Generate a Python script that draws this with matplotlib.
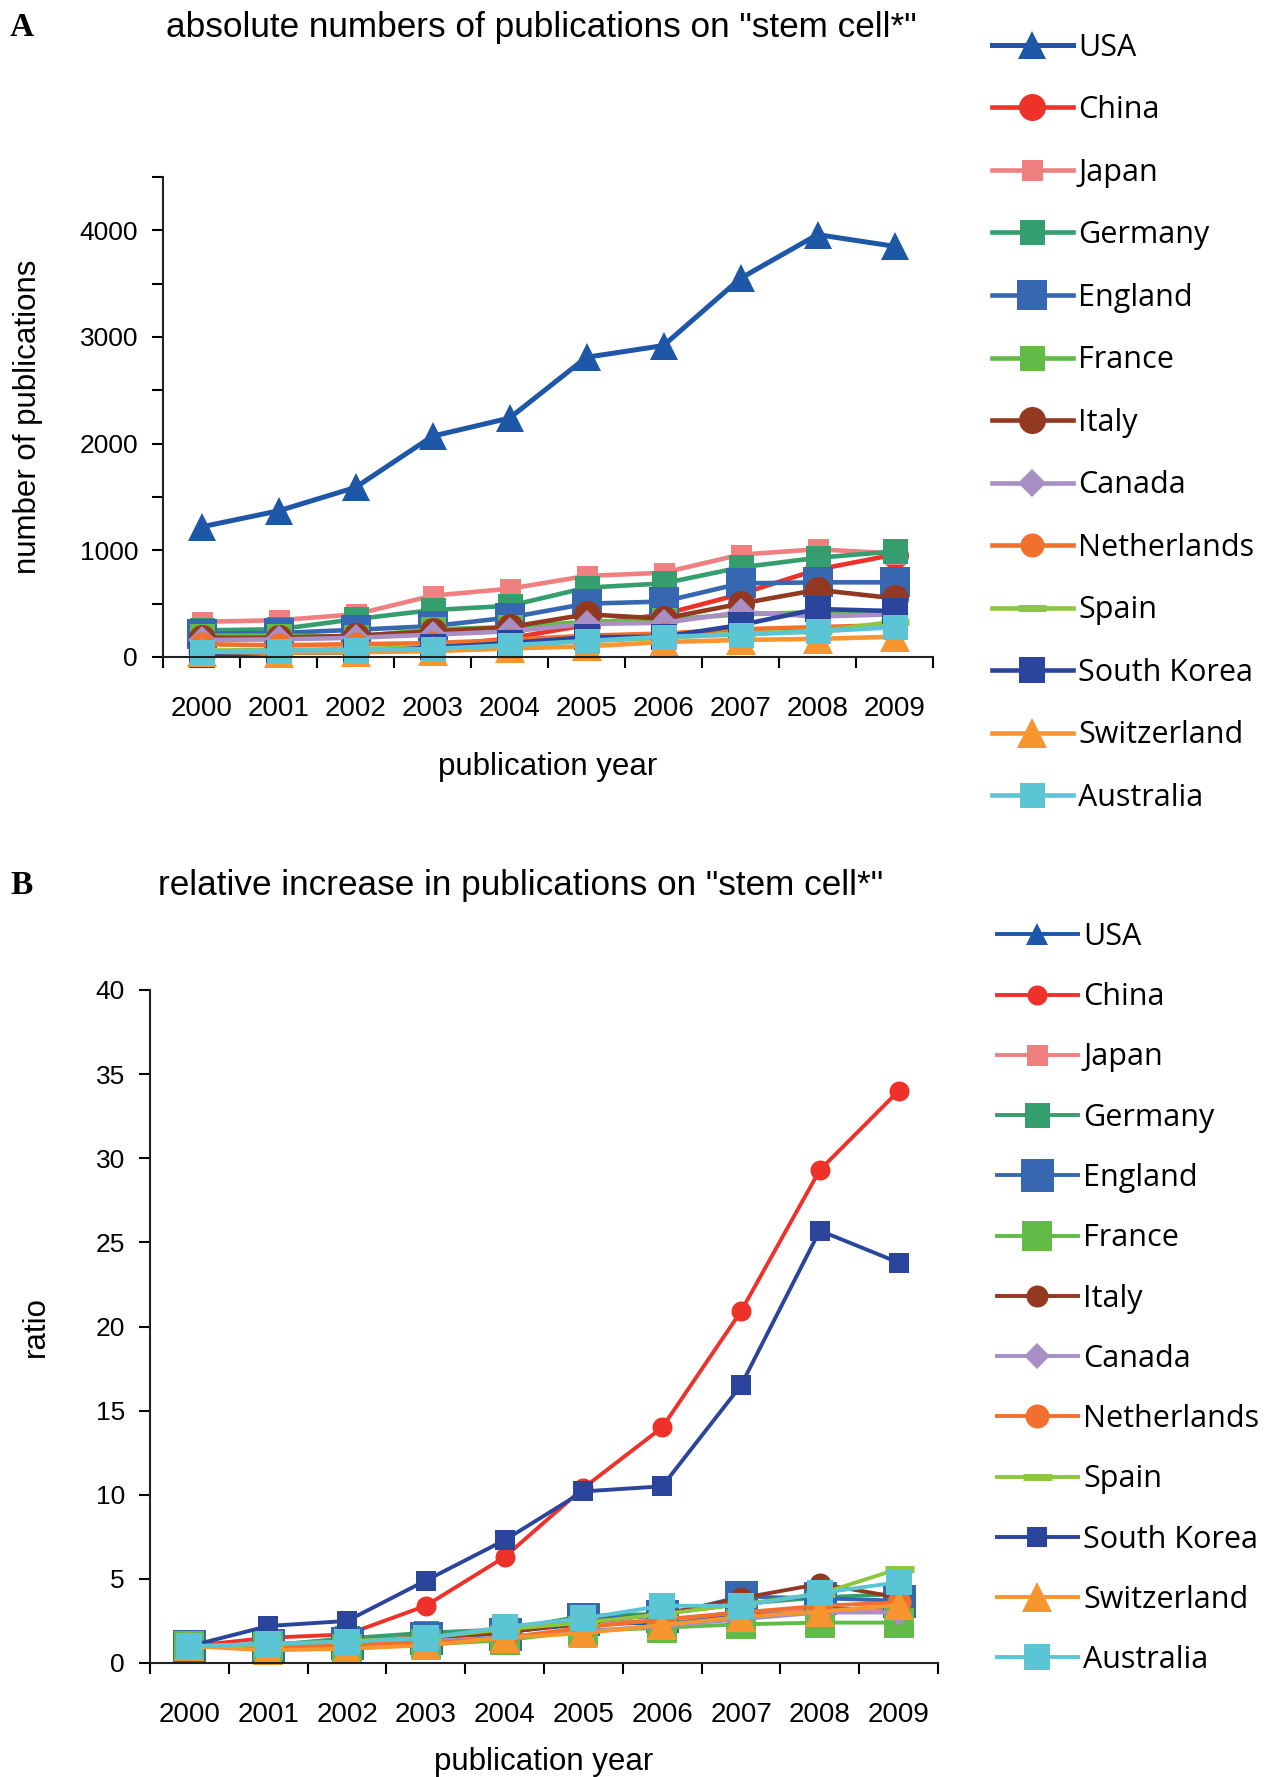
import numpy as np
import matplotlib
matplotlib.use("Agg")
import matplotlib.pyplot as plt

years = ["2000", "2001", "2002", "2003", "2004", "2005", "2006", "2007", "2008", "2009"]
countries = ["USA", "China", "Japan", "Germany", "England", "France", "Italy",
             "Canada", "Netherlands", "Spain", "South Korea", "Switzerland", "Australia"]

# panel A: absolute numbers of publications
abs_usa = [1220, 1370, 1590, 2070, 2240, 2810, 2920, 3550, 3960, 3850]
abs_china = [28, 40, 50, 95, 175, 300, 400, 590, 820, 960]
abs_japan = [330, 345, 400, 575, 640, 760, 790, 960, 1010, 970]
abs_germany = [250, 260, 355, 440, 480, 650, 690, 840, 930, 990]
abs_england = [220, 225, 255, 290, 370, 500, 520, 690, 700, 700]
abs_france = [200, 200, 190, 260, 280, 330, 350, 400, 420, 430]
abs_italy = [180, 180, 200, 240, 280, 400, 360, 500, 630, 550]
abs_canada = [160, 165, 180, 210, 240, 310, 320, 420, 380, 400]
abs_netherlands = [120, 110, 120, 130, 160, 200, 220, 260, 280, 300]
abs_spain = [60, 65, 75, 90, 120, 150, 180, 220, 240, 330]
abs_korea = [20, 40, 45, 90, 130, 185, 190, 300, 450, 430]
abs_switzerland = [50, 40, 45, 55, 80, 100, 140, 160, 170, 190]
abs_australia = [50, 60, 65, 75, 110, 150, 190, 210, 240, 280]

# panel B: ratio to 2000
rel_usa = [1, 1.12, 1.31, 1.70, 1.84, 2.31, 2.39, 2.92, 3.25, 3.16]
rel_china = [1, 1.5, 1.7, 3.4, 6.3, 10.4, 14.0, 20.9, 29.3, 34.0]
rel_japan = [1, 1.05, 1.25, 1.8, 2.0, 2.4, 2.5, 3.05, 3.2, 3.1]
rel_germany = [1, 1.06, 1.47, 1.8, 1.98, 2.8, 2.93, 3.5, 3.9, 4.1]
rel_england = [1, 1.05, 1.2, 1.5, 1.75, 2.6, 2.8, 3.95, 3.85, 3.7]
rel_france = [1, 1.0, 0.85, 1.1, 1.35, 1.9, 2.1, 2.3, 2.4, 2.4]
rel_italy = [1, 1.1, 1.3, 1.5, 1.8, 2.4, 2.9, 3.85, 4.7, 3.9]
rel_canada = [1, 1.0, 1.15, 1.3, 1.5, 1.9, 2.2, 2.6, 3.0, 3.0]
rel_netherlands = [1, 0.95, 1.1, 1.2, 1.5, 2.1, 2.6, 3.0, 3.4, 3.6]
rel_spain = [1, 1.1, 1.3, 1.5, 2.0, 2.4, 2.9, 3.5, 4.1, 5.6]
rel_korea = [1, 2.2, 2.5, 4.9, 7.3, 10.2, 10.5, 16.5, 25.7, 23.8]
rel_switzerland = [1, 0.75, 0.85, 1.05, 1.5, 1.77, 2.26, 2.75, 3.05, 3.45]
rel_australia = [1, 1.15, 1.27, 1.47, 2.15, 2.65, 3.4, 3.4, 4.15, 4.8]

abs_data = [abs_usa, abs_china, abs_japan, abs_germany, abs_england, abs_france, abs_italy,
            abs_canada, abs_netherlands, abs_spain, abs_korea, abs_switzerland, abs_australia]
rel_data = [rel_usa, rel_china, rel_japan, rel_germany, rel_england, rel_france, rel_italy,
            rel_canada, rel_netherlands, rel_spain, rel_korea, rel_switzerland, rel_australia]

colors = ["#1F57A8", "#EE3129", "#F08080", "#359E6E", "#3767B1", "#62BB47", "#933821",
          "#A88FC4", "#F26F2E", "#8DC63F", "#2B459C", "#F7962E", "#5BC5D5"]
markers = ["^", "o", "s", "s", "s", "s", "o", "D", "o", "_", "s", "^", "s"]
# marker sizes in pixels
sizes_a = [28, 27, 21, 25, 30, 25, 27, 20, 24, 28, 27, 30, 25]
sizes_b = [22, 20, 21, 25, 33, 30, 22, 19, 24, 29, 20, 30, 27]

fig = plt.figure(figsize=(12.71, 17.77), dpi=100)
W, H = 1271, 1777
PT = 0.72  # px -> pt


def ax_box(left, top, right, bottom):
    return [left / W, 1 - bottom / H, (right - left) / W, (bottom - top) / H]


def style_axis(ax, pad):
    x = np.arange(len(years))
    ax.set_xlim(-0.5, len(years) - 0.5)
    ax.set_xticks(np.arange(len(years) + 1) - 0.5)
    ax.set_xticklabels([])
    ax.set_xticks(x, minor=True)
    ax.set_xticklabels(years, minor=True, fontsize=20, family="Liberation Sans")
    ax.tick_params(axis="x", which="minor", length=0, pad=pad)
    ax.tick_params(axis="x", which="major", direction="out", length=8, width=1.5)
    ax.tick_params(axis="y", direction="out", length=8, width=1.5, labelsize=19, pad=10)
    for lab in ax.get_yticklabels():
        lab.set_family("Liberation Sans")
    for s in ["top", "right"]:
        ax.spines[s].set_visible(False)
    for s in ["left", "bottom"]:
        ax.spines[s].set_linewidth(1.5)
        ax.spines[s].set_color("#222222")


legend_font = {"family": "Open Sans", "size": 22}
x = np.arange(len(years))

# ---- Panel A
axA = fig.add_axes(ax_box(163, 177, 933, 657))
for vals, name, c, m, ms in zip(abs_data, countries, colors, markers, sizes_a):
    lw = 3.6 if name == "USA" else 3.3
    mew = 5 if m == "_" else 0
    axA.plot(x, vals, color=c, marker=m, markersize=ms * PT, linewidth=lw,
             markeredgewidth=mew, markeredgecolor=c, label=name, clip_on=False)
axA.set_ylim(0, 4500)
axA.set_yticks(np.arange(0, 4501, 500))
axA.set_yticklabels([str(v) if v % 1000 == 0 else "" for v in range(0, 4501, 500)])
style_axis(axA, 28)
axA.set_ylabel("number of publications", fontsize=22.5, family="Liberation Sans", labelpad=26)
axA.set_xlabel("publication year", fontsize=22.5, family="Liberation Sans", labelpad=22)
fig.text(166 / W, 1 - 27 / H, 'absolute numbers of publications on "stem cell*"',
         fontsize=25.3, family="Liberation Sans", va="center", ha="left")
fig.text(10 / W, 1 - 27 / H, "A", fontsize=24, family="Liberation Serif",
         weight="bold", va="center", ha="left")
axA.legend(loc="upper left", bbox_to_anchor=(992 / W, 1 - 32.5 / H), bbox_transform=fig.transFigure,
           frameon=False, prop=legend_font, handlelength=2.64,
           handletextpad=0.18, labelspacing=1.065, borderpad=0, borderaxespad=0)

# ---- Panel B
axB = fig.add_axes(ax_box(150, 990, 938, 1663))
for vals, name, c, m, ms in zip(rel_data, countries, colors, markers, sizes_b):
    mew = 5 if m == "_" else 0
    axB.plot(x, vals, color=c, marker=m, markersize=ms * PT, linewidth=2.8,
             markeredgewidth=mew, markeredgecolor=c, label=name, clip_on=False)
axB.set_ylim(0, 40)
axB.set_yticks(np.arange(0, 41, 5))
style_axis(axB, 28)
axB.set_ylabel("ratio", fontsize=22.5, family="Liberation Sans", labelpad=32)
axB.set_xlabel("publication year", fontsize=22.5, family="Liberation Sans", labelpad=14)
fig.text(158 / W, 1 - 886 / H, 'relative increase in publications on "stem cell*"',
         fontsize=25.3, family="Liberation Sans", va="center", ha="left")
fig.text(10 / W, 1 - 886 / H, "B", fontsize=24, family="Liberation Serif",
         weight="bold", va="center", ha="left")
axB.legend(loc="upper left", bbox_to_anchor=(997 / W, 1 - 922 / H), bbox_transform=fig.transFigure,
           frameon=False, prop=legend_font, handlelength=2.64,
           handletextpad=0.18, labelspacing=0.99, borderpad=0, borderaxespad=0)

fig.savefig("out.png", dpi=100)
